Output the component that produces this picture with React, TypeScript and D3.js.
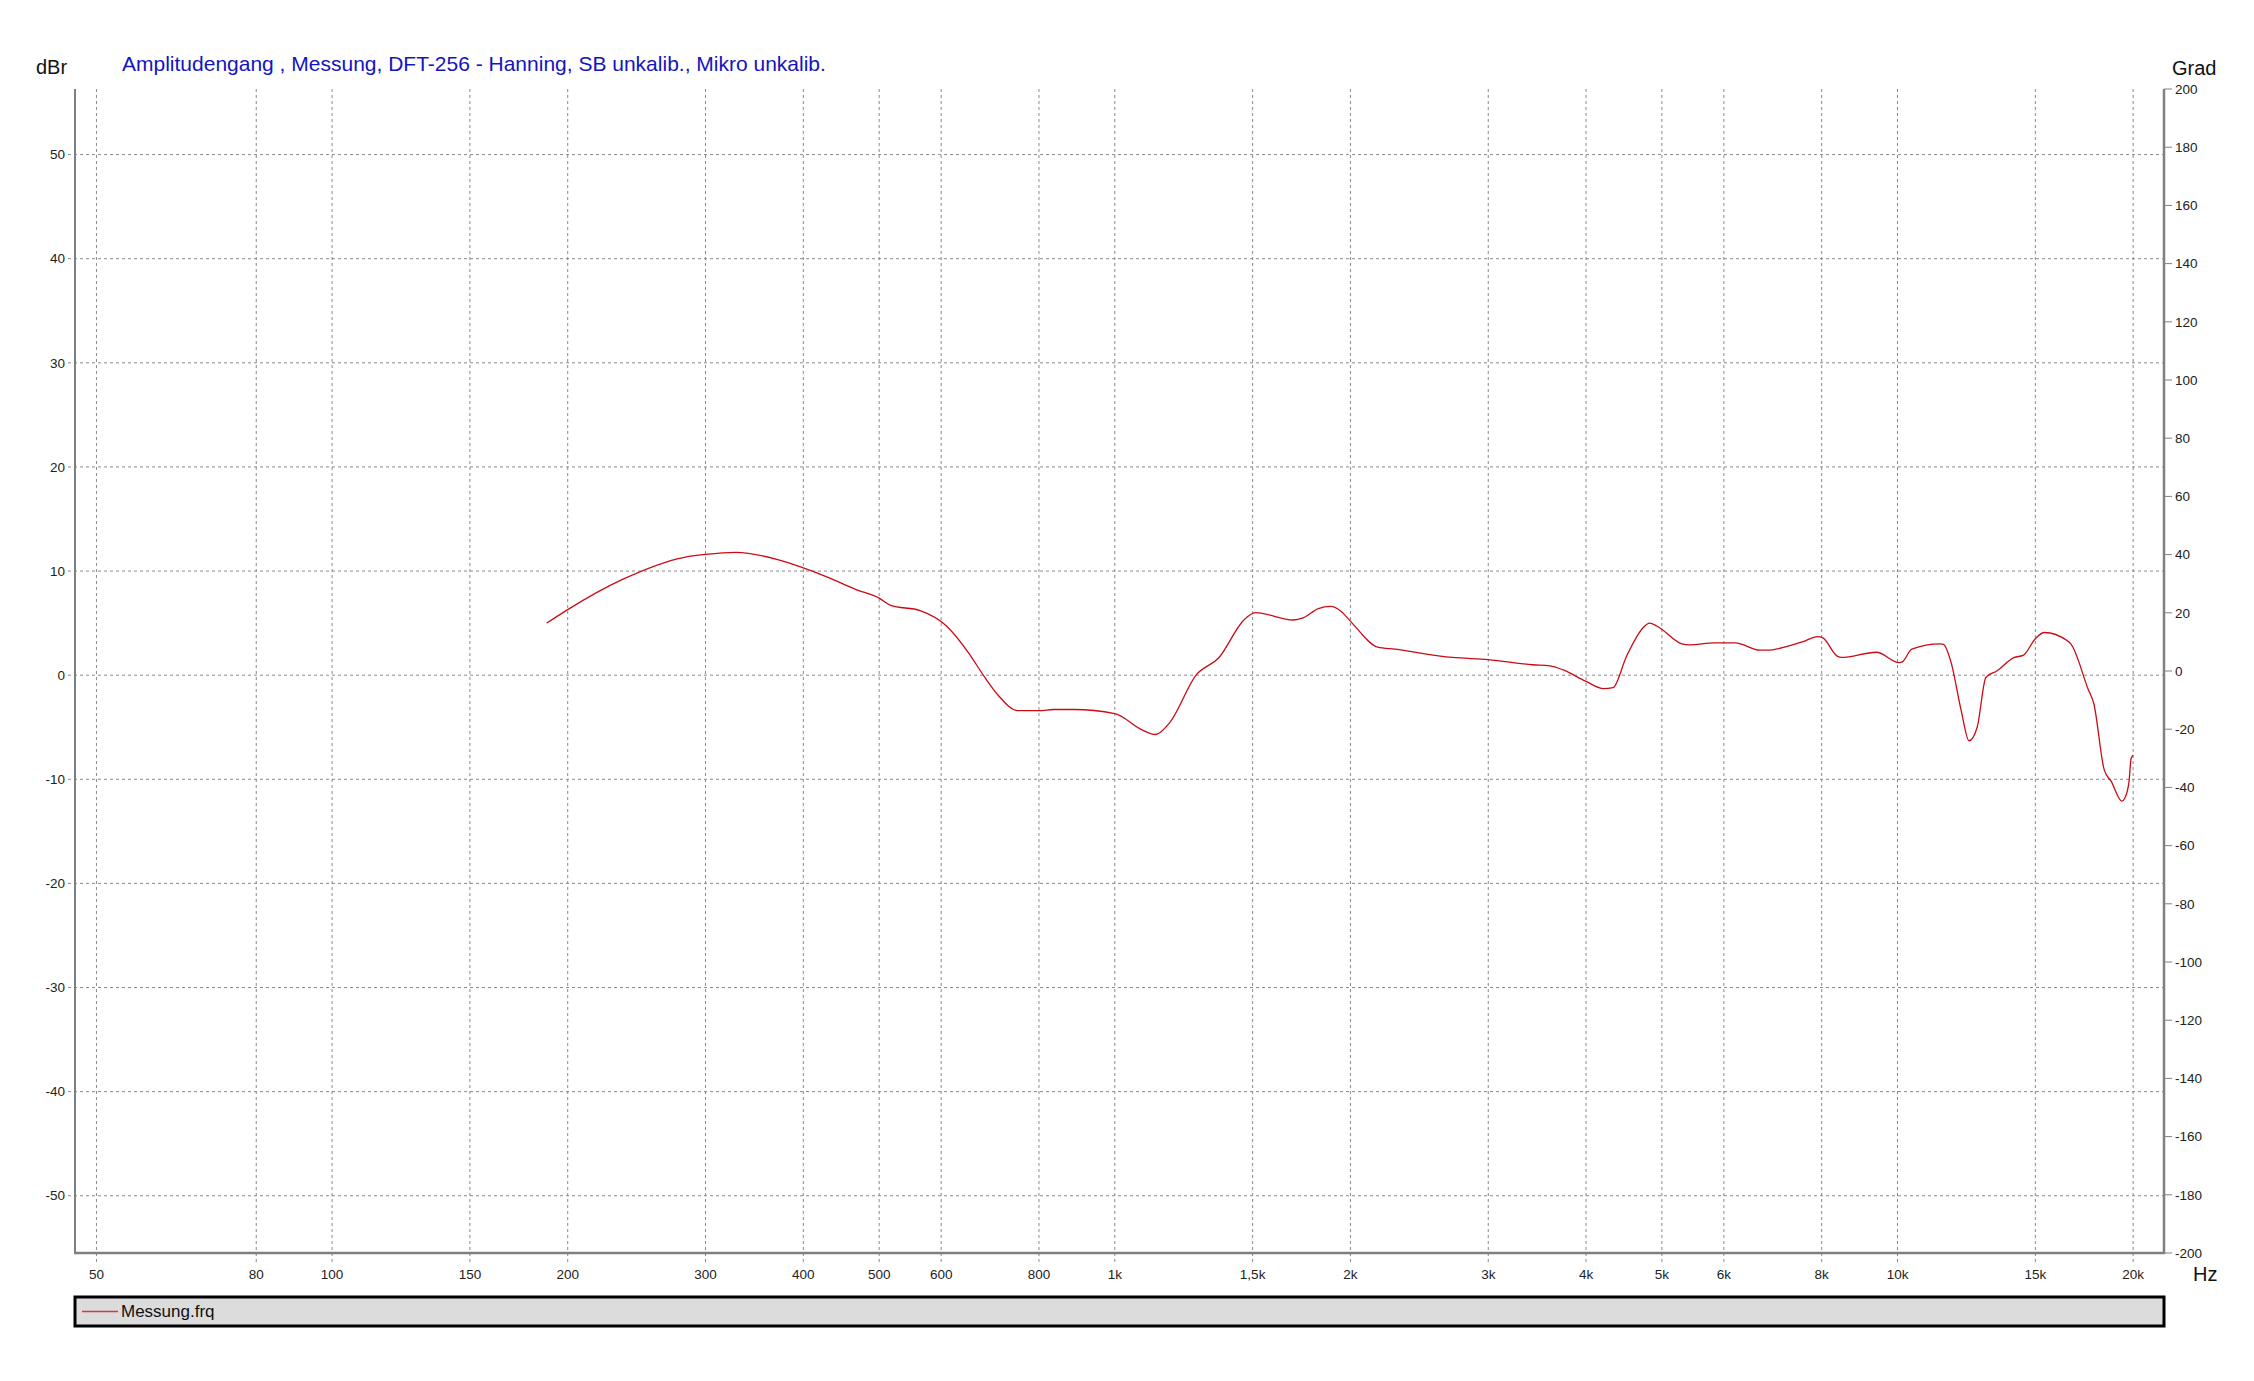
import React, { useEffect } from "react";
import * as d3 from "d3";

// ---- data ----
const freqHz = [
  188, 200, 235, 281, 300, 328, 375, 400, 430, 468,
  500, 517, 564, 610, 651, 682, 709, 752, 800, 836,
  886, 1000, 1086, 1127, 1174, 1270, 1359, 1462, 1512, 1691,
  1740, 1820, 1886, 1948, 2010, 2167, 2280, 2699, 3000, 3418,
  3597, 3741, 4000, 4212, 4330, 4505, 4737, 4821, 4930, 5303,
  5422, 5832, 6204, 6675, 6800, 7557, 7910, 8020, 8385, 8474,
  9400, 10050, 10150, 10430, 11335, 11450, 11690, 12060, 12340, 12640,
  12970, 13390, 14100, 14470, 15000, 15400, 16480, 16650, 17530, 17810,
  18370, 18750, 19350, 19520, 19760, 19880, 20000,
];
const levelDb = [
  5.0, 6.3, 9.2, 11.3, 11.6, 11.8, 11.0, 10.3, 9.4, 8.2,
  7.4, 6.7, 6.2, 4.7, 2.1, -0.2, -1.9, -3.4, -3.4, -3.3,
  -3.3, -3.7, -5.3, -5.7, -4.6, 0.0, 1.7, 5.3, 6.0, 5.3,
  5.5, 6.4, 6.6, 6.1, 5.0, 2.7, 2.5, 1.7, 1.5, 1.0,
  0.9, 0.5, -0.6, -1.3, -1.2, 1.8, 4.6, 5.0, 4.7, 3.0,
  2.9, 3.1, 3.1, 2.4, 2.4, 3.2, 3.7, 3.6, 1.8, 1.7,
  2.2, 1.2, 1.3, 2.5, 3.0, 2.95, 1.4, -3.4, -6.3, -5.0,
  -0.2, 0.4, 1.7, 1.9, 3.5, 4.1, 3.3, 3.0, -1.4, -2.7,
  -9.1, -10.2, -12.1, -11.8, -10.2, -8.0, -7.7,
];
const freqTicks = [50, 80, 100, 150, 200, 300, 400, 500, 600, 800, 1000, 1500, 2000, 3000, 4000, 5000, 6000, 8000, 10000, 15000, 20000];
const freqTickLabels = ["50", "80", "100", "150", "200", "300", "400", "500", "600", "800", "1k", "1,5k", "2k", "3k", "4k", "5k", "6k", "8k", "10k", "15k", "20k"];
const dbTicks = [50, 40, 30, 20, 10, 0, -10, -20, -30, -40, -50];
const degTicks = [200, 180, 160, 140, 120, 100, 80, 60, 40, 20, 0, -20, -40, -60, -80, -100, -120, -140, -160, -180, -200];

const TITLE = "Amplitudengang , Messung, DFT-256 - Hanning, SB unkalib., Mikro unkalib.";
const LEGEND = "Messung.frq";

const W = 2254, H = 1381;
const L = 75, R = 2164, T = 89, B = 1253;
const FONT = "'Liberation Sans', Arial, sans-serif";

export default function App() {
  useEffect(() => {
    document.body.style.margin = "0";
    document.body.style.overflow = "hidden";
  }, []);

  const x = d3.scaleLog().domain([46.94, 21900]).range([L, R]);
  const y = d3.scaleLinear().domain([-55.5, 56.3]).range([B, T]);
  const yDeg = d3.scaleLinear().domain([-200, 200]).range([B, T]);

  const pts = freqHz.map((f, i) => [f, levelDb[i]] as [number, number]);
  const line = d3.line<[number, number]>().x(d => x(d[0])).y(d => y(d[1])).curve(d3.curveMonotoneX);

  const grid = "#8a8a8a";
  return (
    <svg width={W} height={H} style={{ position: "absolute", left: 0, top: 0, background: "#fff" }}>
      <rect x={0} y={0} width={W} height={H} fill="#fff" />
      {freqTicks.map((f, i) => (
        <line key={"vg" + i} x1={x(f)} x2={x(f)} y1={T} y2={B + 9} stroke={grid} strokeWidth={1} strokeDasharray="3,3" />
      ))}
      {dbTicks.map((v, i) => (
        <line key={"hg" + i} x1={L - 7} x2={R} y1={y(v)} y2={y(v)} stroke={grid} strokeWidth={1} strokeDasharray="3,3" />
      ))}
      <line x1={L} x2={L} y1={T} y2={B + 1} stroke="#808080" strokeWidth={2} />
      <line x1={L - 1} x2={R + 1} y1={B} y2={B} stroke="#808080" strokeWidth={2.5} />
      <line x1={R} x2={R} y1={T} y2={B + 1} stroke="#808080" strokeWidth={2.5} />
      {degTicks.map((v, i) => (
        <g key={"rt" + i}>
          <line x1={R} x2={R + 8} y1={yDeg(v)} y2={yDeg(v)} stroke="#808080" strokeWidth={1} />
          <text x={R + 11} y={yDeg(v)} dy="0.35em" fontFamily={FONT} fontSize={13.5} fill="#222">{v}</text>
        </g>
      ))}
      {dbTicks.map((v, i) => (
        <text key={"lt" + i} x={L - 10} y={y(v)} dy="0.35em" textAnchor="end" fontFamily={FONT} fontSize={13.5} fill="#222">{v}</text>
      ))}
      {freqTicks.map((f, i) => (
        <text key={"bt" + i} x={x(f)} y={1279} textAnchor="middle" fontFamily={FONT} fontSize={13.5} fill="#222">{freqTickLabels[i]}</text>
      ))}
      <path d={line(pts) || ""} fill="none" stroke="#cc0a14" strokeWidth={1.3} />
      <text x={36} y={74} fontFamily={FONT} fontSize={20} fill="#111">dBr</text>
      <text x={122} y={71} fontFamily={FONT} fontSize={21} fill="#1414c0">{TITLE}</text>
      <text x={2172} y={75} fontFamily={FONT} fontSize={20} fill="#111">Grad</text>
      <text x={2193} y={1281} fontFamily={FONT} fontSize={20} fill="#111">Hz</text>
      <rect x={75} y={1297} width={R - 75} height={29} fill="#dcdcdc" stroke="#000" strokeWidth={3} />
      <line x1={82} x2={118} y1={1311.5} y2={1311.5} stroke="#e0304a" strokeWidth={1.3} />
      <text x={121} y={1317} fontFamily={FONT} fontSize={17} fill="#111">{LEGEND}</text>
    </svg>
  );
}
